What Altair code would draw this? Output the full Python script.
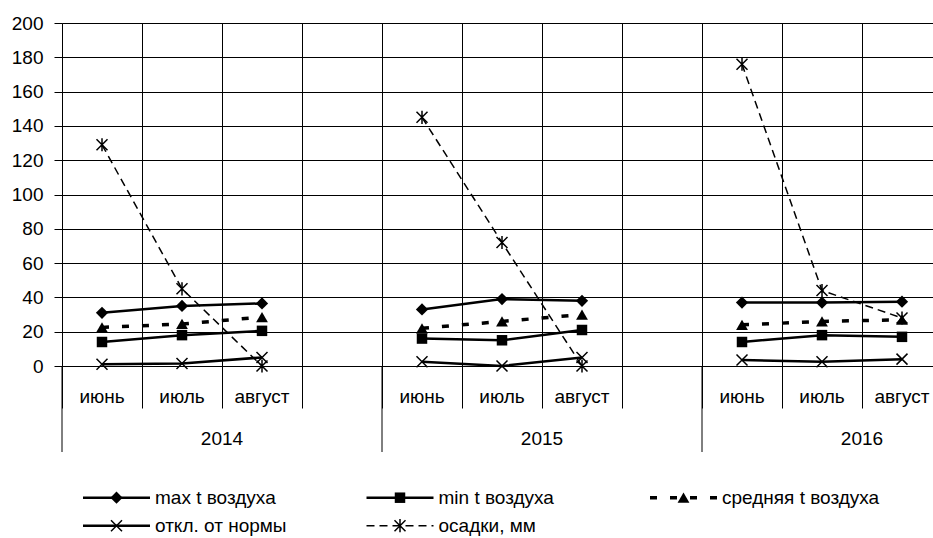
import altair as alt
import pandas as pd

# --- data -------------------------------------------------------------
years = ["2014", "2015", "2016"]
months = ["июнь", "июль", "август"]

max_t = [31, 35, 36.5, 33, 39, 38, 37, 37, 37.5]
min_t = [14, 18, 20.5, 16, 15, 21, 14, 18, 17]
avg_t = [22.5, 24.5, 28.5, 22, 26, 30, 24, 26, 27]
dev_norm = [1, 1.5, 5, 2.5, 0, 5, 3.5, 2.5, 4]
precip = [129, 45, 0, 145, 72, 0, 176, 44, 28]

series_names = [
    "max t воздуха",
    "min t воздуха",
    "средняя t воздуха",
    "откл. от нормы",
    "осадки, мм",
]
series_values = [max_t, min_t, avg_t, dev_norm, precip]

y_ticks = list(range(0, 201, 20))

# --- styling ----------------------------------------------------------
FONT = "Liberation Sans"
FS = 19
CROSS = "M-1,-1L1,1M-1,1L1,-1"
STAR = "M-1,-1L1,1M-1,1L1,-1M0,-1.2L0,1.2"

styles = [
    dict(dash=None, width=2.5, shape="diamond", filled=True, size=150),
    dict(dash=None, width=2.5, shape="square", filled=True, size=110),
    dict(dash=[7, 13], width=3.5, shape="triangle-up", filled=True, size=140),
    dict(dash=None, width=2.5, shape=CROSS, filled=False, size=121),
    dict(dash=[8, 5], width=1.5, shape=STAR, filled=False, size=121),
]

# each year takes four category slots: three months and an empty one
SLOTS_PER_YEAR = 4
CAT_PX = 80
PLOT_W = 871
PLOT_H = 343
X_MAX = PLOT_W / CAT_PX

x_scale = alt.Scale(domain=[0, X_MAX], nice=False, zero=False)
y_scale = alt.Scale(domain=[0, 200], nice=False, zero=True)


def series_frame(values):
    rows = []
    for yi, yr in enumerate(years):
        for mi, mo in enumerate(months):
            rows.append(
                dict(
                    year=yr,
                    month=mo,
                    pos=yi * SLOTS_PER_YEAR + mi + 0.5,
                    value=values[yi * len(months) + mi],
                )
            )
    return pd.DataFrame(rows)


x_axis = alt.Axis(
    values=list(range(0, 11)),
    grid=True,
    gridColor="black",
    gridWidth=1,
    labels=False,
    domain=False,
    ticks=True,
    tickSize=42,
    tickColor="black",
    tickWidth=1,
    title=None,
)
y_axis = alt.Axis(
    values=y_ticks,
    grid=True,
    gridColor="black",
    gridWidth=1,
    domain=True,
    domainColor="black",
    domainWidth=1,
    tickSize=8,
    tickColor="black",
    labelFont=FONT,
    labelFontSize=FS,
    labelColor="black",
    labelPadding=11,
    labelOverlap=False,
    title=None,
)

X_ENC = alt.X("pos:Q", scale=x_scale, axis=x_axis)
Y_ENC = alt.Y("value:Q", scale=y_scale, axis=y_axis)

layers = []
for i, (name, vals, st) in enumerate(zip(series_names, series_values, styles)):
    df = series_frame(vals)
    line_kw = dict(color="black", strokeWidth=st["width"])
    if st["dash"]:
        line_kw["strokeDash"] = st["dash"]
    line = alt.Chart(df).mark_line(**line_kw).encode(x=X_ENC, y=Y_ENC, detail="year:N")
    if st["filled"]:
        pt = alt.Chart(df).mark_point(
            shape=st["shape"], filled=True, color="black", opacity=1, size=st["size"]
        )
    else:
        pt = alt.Chart(df).mark_point(
            shape=st["shape"], filled=False, stroke="black", strokeWidth=1.5,
            opacity=1, size=st["size"],
        )
    pt = pt.encode(x=X_ENC, y=Y_ENC)
    layers += [line, pt]

# --- category labels under the axis -----------------------------------
month_df = pd.DataFrame(
    [
        dict(pos=yi * SLOTS_PER_YEAR + mi + 0.5, label=mo)
        for yi in range(len(years))
        for mi, mo in enumerate(months)
    ]
)
month_text = alt.Chart(month_df).mark_text(
    font=FONT, fontSize=FS, color="black", align="center", baseline="middle"
).encode(x=X_ENC, y=alt.value(374), text="label:N")

year_df = pd.DataFrame(
    dict(pos=[yi * SLOTS_PER_YEAR + SLOTS_PER_YEAR / 2 for yi in range(len(years))], label=years)
)
year_text = alt.Chart(year_df).mark_text(
    font=FONT, fontSize=FS, color="black", align="center", baseline="middle"
).encode(x=X_ENC, y=alt.value(416), text="label:N")

sep_df = pd.DataFrame(dict(pos=[yi * SLOTS_PER_YEAR for yi in range(len(years))]))
year_sep = alt.Chart(sep_df).mark_rule(color="black", strokeWidth=1).encode(
    x=X_ENC, y=alt.value(PLOT_H), y2=alt.value(429)
)

layers += [month_text, year_text, year_sep]

# --- legend (three columns, two rows) ----------------------------------
LEG_X0, LEG_DX = 21, 283.5
LEG_Y0, LEG_DY = 474.7, 28
LEG_LINE = 67
for i, (name, st) in enumerate(zip(series_names, styles)):
    col, row = i % 3, i // 3
    lx = LEG_X0 + col * LEG_DX
    ly = LEG_Y0 + row * LEG_DY
    ldf = pd.DataFrame(dict(name=[name]))
    rule_kw = dict(color="black", strokeWidth=st["width"])
    if st["dash"]:
        rule_kw["strokeDash"] = st["dash"]
    seg = alt.Chart(ldf).mark_rule(**rule_kw).encode(
        x=alt.value(lx), x2=alt.value(lx + LEG_LINE), y=alt.value(ly)
    )
    if st["filled"]:
        sym = alt.Chart(ldf).mark_point(
            shape=st["shape"], filled=True, color="black", opacity=1, size=st["size"]
        )
    else:
        sym = alt.Chart(ldf).mark_point(
            shape=st["shape"], filled=False, stroke="black", strokeWidth=1.5,
            opacity=1, size=st["size"],
        )
    sym = sym.encode(x=alt.value(lx + LEG_LINE / 2), y=alt.value(ly))
    txt = alt.Chart(ldf).mark_text(
        font=FONT, fontSize=FS, color="black", align="left", baseline="middle"
    ).encode(x=alt.value(lx + 72), y=alt.value(ly), text="name:N")
    layers += [seg, sym, txt]

chart = (
    alt.layer(*layers)
    .properties(
        width=PLOT_W,
        height=PLOT_H,
        autosize=alt.AutoSizeParams(type="none"),
        padding={"left": 62, "top": 23, "right": 0, "bottom": 172},
        background="white",
    )
    .configure_view(stroke=None)
)

chart.save("out.html", embed_options={"renderer": "svg", "actions": False})
